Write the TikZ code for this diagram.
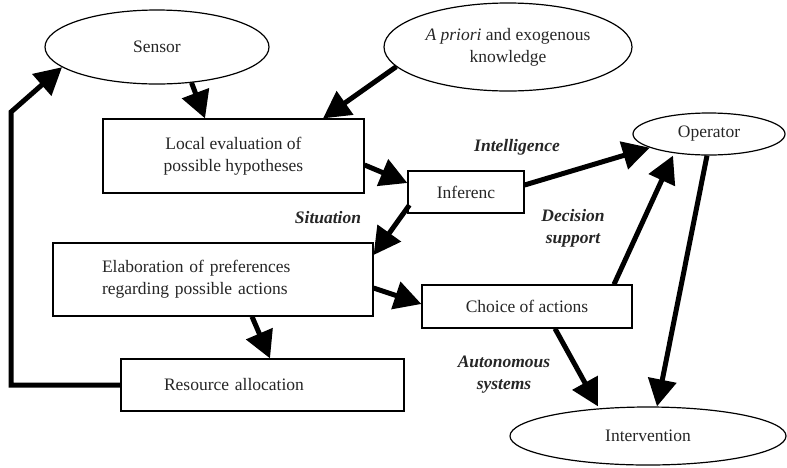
\documentclass[tikz,border=0pt]{standalone}
\usepackage{fontspec}
\setmainfont{Liberation Serif}
\usetikzlibrary{shapes.geometric,arrows.meta}

\begin{document}
\begin{tikzpicture}[x=1pt, y=-1pt,
	font=\fontsize{17.5}{22}\selectfont,
	box/.style={draw, rectangle, line width=1.2pt, inner sep=0pt, align=center, text=black!85},
	oval/.style={draw, ellipse, line width=1.2pt, inner sep=0pt, align=center, text=black!85},
	lab/.style={font=\fontsize{17.5}{22}\selectfont\bfseries\itshape, align=center, text=black!85},
	flow/.style={line width=5pt, -{Triangle[length=27pt,width=28pt]}}]

	\def \ArrW {5pt} % thickness of the big arrows

	\useasboundingbox (0,0) rectangle (787,467);

	% ellipses
	\node (Sensor) at (157,47) [oval, minimum width=224pt, minimum height=74pt]{Sensor};
	\node (Prior) at (508,47) [oval, minimum width=248pt, minimum height=88pt]{\textit{A priori} and exogenous\\knowledge};
	\node (Oper) at (709,134) [oval, minimum width=152pt, minimum height=42pt]{Operator};
	\node (Interv) at (648,436) [oval, minimum width=276pt, minimum height=58pt]{Intervention};

	% boxes
	\node (Local) at (233.5,156) [box, minimum width=261pt, minimum height=74pt]{Local evaluation of\\possible hypotheses};
	\node (Infer) at (466,192) [box, minimum width=116pt, minimum height=42pt]{Inferenc};
	\node (Elab) at (213,279.5) [box, inner xsep=49pt, text width=222pt, align=left, minimum height=73pt]{Elaboration of preferences\\regarding possible actions};
	\node (Choice) at (527,306.5) [box, minimum width=210pt, minimum height=43pt]{Choice of actions};
	\node (Res) at (262.5,385) [box, inner xsep=43pt, text width=197pt, align=left, minimum height=52pt]{Resource allocation};

	% labels
	\node (LIntel) at (517,147) [lab]{Intelligence};
	\node (LSit) at (328,218) [lab]{Situation};
	\node (LDec) at (573,228.5) [lab]{Decision\\support};
	\node (LAuto) at (504,374.5) [lab]{Autonomous\\systems};

	\coordinate (FB) at (11,112);

	\draw[flow] (Sensor.-46) -- ([xshift=-28.5pt]Local.north);
	\draw[flow] (Prior.190) -- ([xshift=89.5pt]Local.north);
	\draw[flow] ([yshift=-9pt]Local.east) -- ([yshift=9pt]Infer.west);
	\draw[flow] ([shift={(2pt,-13pt)}]Infer.west) -- ([yshift=24.5pt]Elab.east);
	\draw[flow] ([yshift=-8.5pt]Elab.east) -- ([yshift=2.5pt]Choice.west);
	\draw[flow] ([xshift=39pt]Elab.south) -- ([xshift=7.5pt]Res.north);
	\draw[flow] ([yshift=7pt]Infer.east) -- (Oper.193);
	\draw[flow] ([xshift=87pt]Choice.north) -- ([xshift=-36pt]Oper.south);
	\draw[flow] ([xshift=-2pt]Oper.south) -- ([xshift=9pt]Interv.north);
	\draw[flow] ([xshift=28pt]Choice.south) -- ([xshift=-50pt]Interv.north);
	\draw[flow] (Res.west) -| (FB) -- (Sensor.192);

\end{tikzpicture}
\end{document}
